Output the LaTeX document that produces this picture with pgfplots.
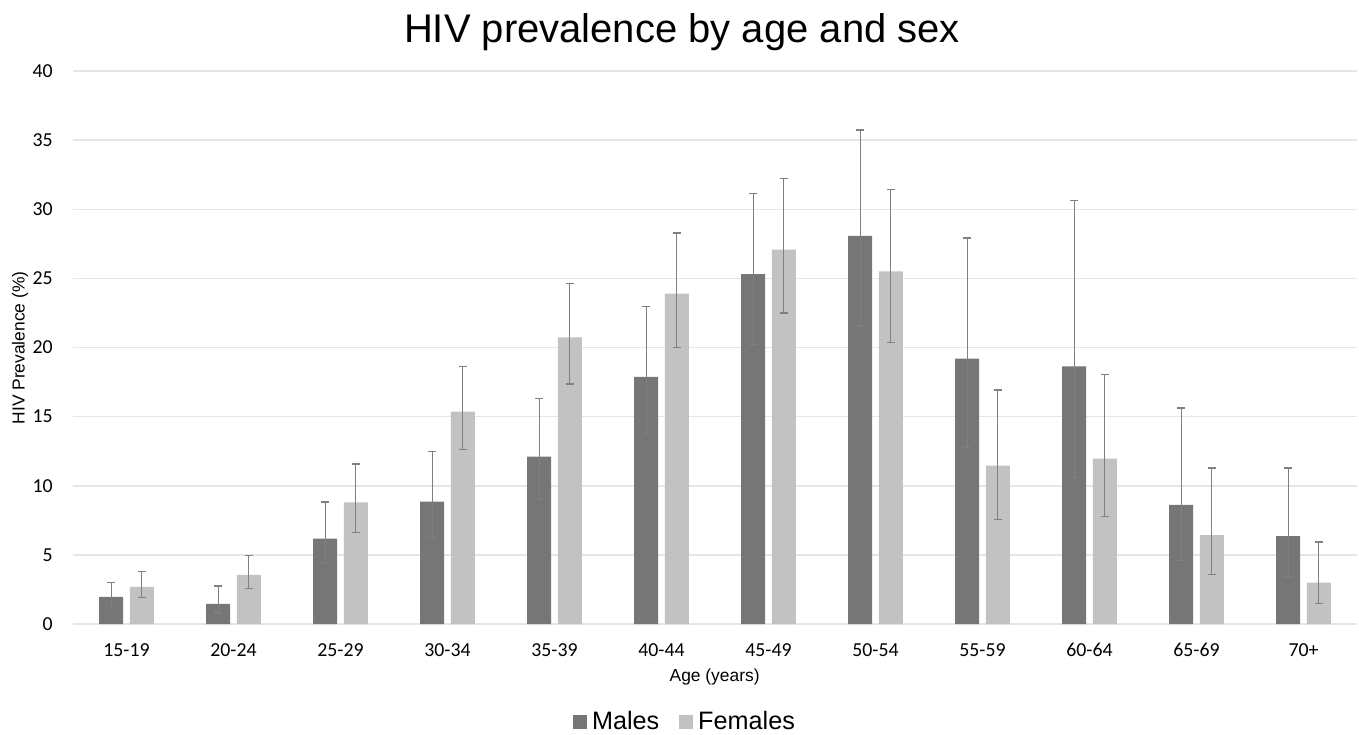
\documentclass[border=0pt]{standalone}
\usepackage{fontspec}
\setmainfont{Liberation Sans}
\newfontfamily\tickfont{Carlito}
\usepackage{pgfplots}
\usepackage{pgfplotstable}
\pgfplotsset{compat=1.18}
\definecolor{mgray}{HTML}{767676}
\definecolor{fgray}{HTML}{C2C2C2}
\definecolor{egray}{HTML}{808080}
\definecolor{ggray}{HTML}{E6E6E6}
\pgfplotstableread{
x m mp mm f fp fm
0 1.96 1.06 0.68 2.68 1.11 0.77
1 1.45 1.30 0.65 3.55 1.38 0.97
2 6.18 2.64 1.81 8.79 2.78 2.15
3 8.86 3.60 2.60 15.37 3.28 2.73
4 12.11 4.18 3.11 20.73 3.88 3.38
5 17.88 5.09 4.10 23.90 4.38 3.90
6 25.30 5.82 5.07 27.08 5.14 4.59
7 28.08 7.66 6.53 25.51 5.94 5.14
8 19.20 8.73 6.43 11.45 5.48 3.89
9 18.63 11.99 8.03 11.97 6.08 4.21
10 8.62 7.01 4.05 6.43 4.85 2.86
11 6.35 4.93 2.90 3.00 2.94 1.50
}\data
\begin{document}
\begin{tikzpicture}
\begin{axis}[
  at={(0,0)}, anchor=south west,
  scale only axis,
  width=642pt, height=276.5pt,
  xmin=-0.5, xmax=11.5, ymin=0, ymax=40,
  enlargelimits=false,
  ytick={0,5,...,40},
  xtick={0,...,11},
  xticklabels={15-19,20-24,25-29,30-34,35-39,40-44,45-49,50-54,55-59,60-64,65-69,70+},
  /pgf/number format/assume math mode=true,
  ticklabel style={font=\tickfont\fontsize{9.9}{12}\selectfont, inner sep=0pt},
  xticklabel style={anchor=north, yshift=-9.5pt},
  yticklabel style={anchor=east, xshift=-10pt},
  major tick length=0pt,
  tick style={draw=none},
  axis line style={draw=none},
  ymajorgrids,
  major grid style={ggray, line width=0.75pt},
  ybar, bar width=0.224,
  clip=false,
  legend style={draw=none, fill=none, at={(0.4766,-0.1772)}, anchor=center,
    font=\fontsize{12.6}{14}\selectfont, legend columns=2,
    /tikz/every even column/.append style={column sep=9pt},
    nodes={inner sep=1pt}},
  legend image code/.code={\fill[#1] (0pt,-3.5pt) rectangle (7pt,3.5pt); \path (8.5pt,0pt);},
]
\addplot[fill=mgray, draw=none, bar shift=-0.143,
  error bars/.cd, y dir=both, y explicit,
  error bar style={line width=0.65pt, egray},
  error mark options={rotate=90, line width=0.65pt, egray, mark size=2pt}]
  table[x=x, y=m, y error plus=mp, y error minus=mm] {\data};
\addlegendentry{Males}
\addplot[fill=fgray, draw=none, bar shift=0.143,
  error bars/.cd, y dir=both, y explicit,
  error bar style={line width=0.65pt, egray},
  error mark options={rotate=90, line width=0.65pt, egray, mark size=2pt}]
  table[x=x, y=f, y error plus=fp, y error minus=fm] {\data};
\addlegendentry{Females}
\end{axis}
\node[anchor=base, font=\fontsize{20}{24}\selectfont] at (304.5pt,290.5pt) {HIV prevalence by age and sex};
\node[anchor=base, font=\fontsize{8.7}{10}\selectfont] at (320.8pt,-28.85pt) {Age (years)};
\node[rotate=90, anchor=center, font=\fontsize{8.7}{10}\selectfont] at (-26.5pt,138pt) {HIV Prevalence (\%)};
\pgfresetboundingbox
\useasboundingbox (-36.5pt,-55pt) rectangle (643pt,312pt);
\end{tikzpicture}
\end{document}
